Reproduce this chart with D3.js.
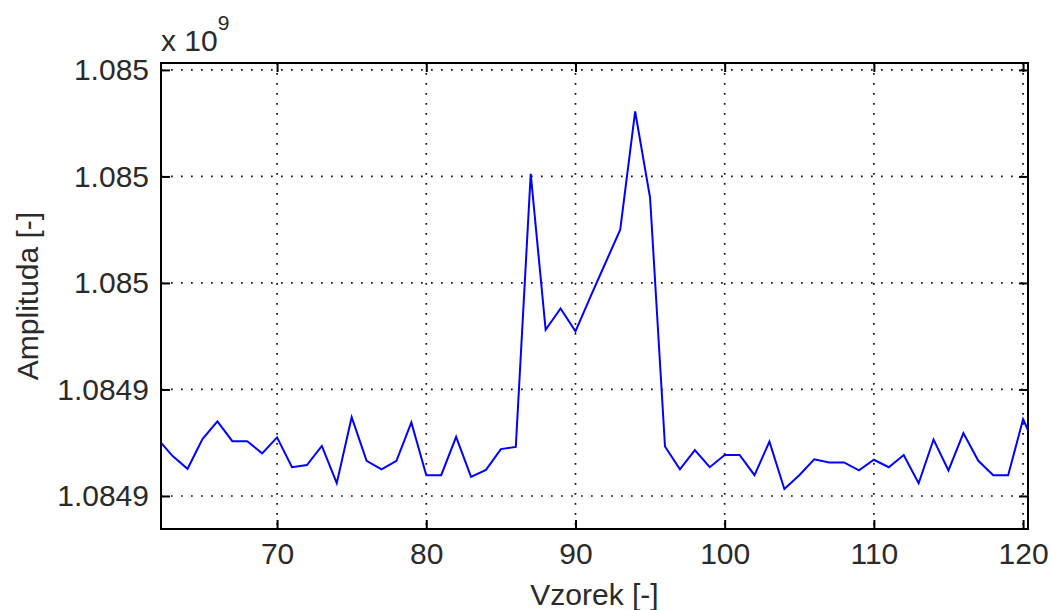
<!DOCTYPE html>
<html>
<head>
<meta charset="utf-8">
<script src="https://cdn.jsdelivr.net/npm/d3@7"></script>
<style>
  body { margin:0; background:#fff; }
  #canvas { width:1051px; height:610px; }
  text { font-family:"Liberation Sans", Arial, sans-serif; fill:#2a2a2a; }
  .grid line { stroke:#111; stroke-width:1.7; stroke-dasharray:1.7,8.3; }
</style>
</head>
<body>
<div id="canvas" class="canvas"></div>
<script>
// sample index (Vzorek) and amplitude in units of 10^9
var samples = [62,63,64,65,66,67,68,69,70,71,72,73,74,75,76,77,78,79,80,81,
  82,83,84,85,86,87,88,89,90,91,92,93,94,95,96,97,98,99,100,101,
  102,103,104,105,106,107,108,109,110,111,112,113,114,115,116,117,118,119,120,121];
var amplitude = [1.0849307,1.0849275,1.0849251,1.0849307,1.0849340,1.0849303,1.0849303,1.0849280,1.0849310,1.0849254,
  1.0849258,1.0849294,1.0849224,1.0849348,1.0849266,1.0849250,1.0849266,1.0849338,1.0849239,1.0849239,
  1.0849311,1.0849236,1.0849249,1.0849288,1.0849292,1.0849805,1.0849512,1.0849552,1.0849509,1.0849574,
  1.0849637,1.0849700,1.0849922,1.0849760,1.0849293,1.0849250,1.0849286,1.0849254,1.0849277,1.0849277,
  1.0849239,1.0849302,1.0849213,1.0849239,1.0849269,1.0849263,1.0849263,1.0849248,1.0849268,1.0849254,
  1.0849277,1.0849224,1.0849306,1.0849248,1.0849318,1.0849266,1.0849239,1.0849239,1.0849344,1.0849283];

var xTicks = [70,80,90,100,110,120];
var yTicks = [1.08492,1.08494,1.08496,1.08498,1.08500];
var yTickLabels = ["1.0849","1.0849","1.085","1.085","1.085"];

var m = {t:63,r:23,b:81,l:161};
var outerWidth = 1051, outerHeight = 610;
var w = outerWidth - m.l - m.r,
    h = outerHeight - m.t - m.b;

var svg = d3.select('.canvas')
    .append('svg')
    .attr('width',outerWidth)
    .attr('height',outerHeight);

var plot = svg.append('g')
    .attr('transform','translate(' + m.l + ',' + m.t + ')');

var scaleX = d3.scaleLinear()
    .domain([62.22,120.33])
    .range([0,w]);

var scaleY = d3.scaleLinear()
    .domain([1.0849138,1.0850013])
    .range([h,0]);

// dotted grid
var grid = plot.append('g').attr('class','grid');
grid.selectAll('.gx').data(xTicks).enter().append('line')
    .attr('x1',function(d){return scaleX(d);})
    .attr('x2',function(d){return scaleX(d);})
    .attr('y1',0).attr('y2',h);
grid.selectAll('.gy').data(yTicks).enter().append('line')
    .attr('y1',function(d){return scaleY(d);})
    .attr('y2',function(d){return scaleY(d);})
    .attr('x1',0).attr('x2',w);

// data line, clipped to the axes box
svg.append('clipPath').attr('id','clip')
    .append('rect').attr('width',w).attr('height',h);

var rows = samples.map(function(s,i){ return {x:s, y:amplitude[i]}; });
var line = d3.line()
    .x(function(d){return scaleX(d.x);})
    .y(function(d){return scaleY(d.y);});

plot.append('path')
    .datum(rows)
    .attr('clip-path','url(#clip)')
    .attr('d',line)
    .style('fill','none')
    .style('stroke','#0000ff')
    .style('stroke-width',2);

// axes: inward ticks on all four sides, MATLAB style
var tickLen = 9;
var axisB = d3.axisBottom(scaleX).tickValues(xTicks).tickSize(-tickLen).tickPadding(14).tickSizeOuter(0);
var axisT = d3.axisTop(scaleX).tickValues(xTicks).tickSize(-tickLen).tickFormat('').tickSizeOuter(0);
var axisL = d3.axisLeft(scaleY).tickValues(yTicks).tickSize(-tickLen).tickPadding(12).tickSizeOuter(0)
    .tickFormat(function(d,i){return yTickLabels[i];});
var axisR = d3.axisRight(scaleY).tickValues(yTicks).tickSize(-tickLen).tickFormat('').tickSizeOuter(0);

plot.append('g').attr('class','axis axis-x').attr('transform','translate(0,' + h + ')').call(axisB);
plot.append('g').attr('class','axis axis-top').call(axisT);
plot.append('g').attr('class','axis axis-y').call(axisL);
plot.append('g').attr('class','axis axis-right').attr('transform','translate(' + w + ',0)').call(axisR);

plot.selectAll('.axis path, .axis line').style('stroke','#000').style('stroke-width',2);
plot.selectAll('.axis .domain').remove();
plot.selectAll('.axis text').style('font-size','30px').style('font-family','"Liberation Sans", Arial, sans-serif').style('fill','#2a2a2a');

plot.append('rect')
    .attr('width',w).attr('height',h)
    .style('fill','none').style('stroke','#000').style('stroke-width',2);

// labels
svg.append('text')
    .attr('x', m.l + w/2).attr('y', 605)
    .attr('text-anchor','middle')
    .style('font-size','30px')
    .text('Vzorek [-]');

svg.append('text')
    .attr('transform','translate(38,' + (m.t + h/2) + ') rotate(-90)')
    .attr('text-anchor','middle')
    .style('font-size','30px')
    .text('Amplituda [-]');

var expo = svg.append('text')
    .attr('x',161).attr('y',51)
    .style('font-size','30px');
expo.append('tspan').text('x 10');
expo.append('tspan').attr('dy',-21).style('font-size','21px').text('9');
</script>
</body>
</html>
